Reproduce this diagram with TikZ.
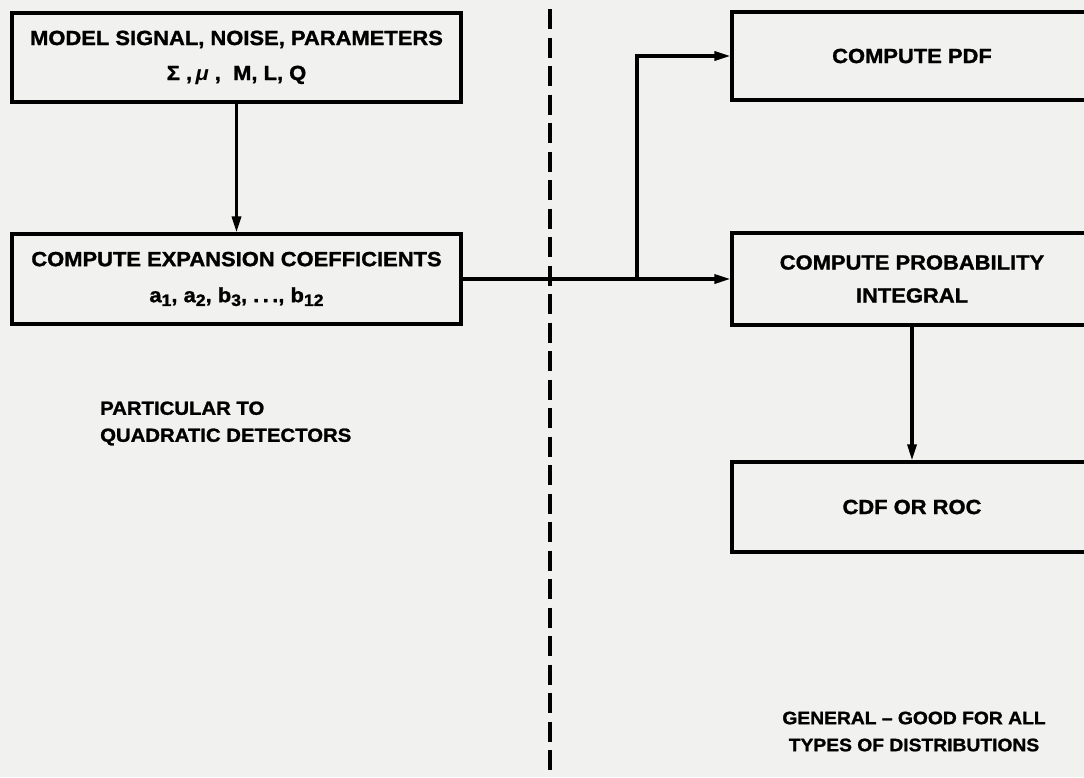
\documentclass[tikz,border=0pt]{standalone}
\usepackage{fontspec}
\setmainfont{Liberation Sans}[FakeStretch=1.07, BoldFeatures={FakeBold=1.3}]
\usetikzlibrary{arrows.meta}
\newcommand\sbx[1]{\raisebox{-0.35ex}{\fontsize{16.5}{16.5}\selectfont #1}}
\definecolor{paper}{RGB}{241,241,239}
\begin{document}
\begin{tikzpicture}[x=1pt,y=-1pt,
  box/.style={draw=black, line width=3.2pt, inner sep=0pt, align=center,
    font=\fontsize{20.5}{37}\selectfont\bfseries},
  conn/.style={line width=3.2pt, -{Triangle[length=16pt,width=9pt]}},
  lbl/.style={inner sep=0pt, font=\fontsize{19}{27}\selectfont\bfseries},
  genlbl/.style={inner sep=0pt, font=\fontsize{18}{27}\selectfont\bfseries},
  divider/.style={line width=3.8pt, dash pattern=on 20pt off 8.5pt}]
\fill[paper] (0,0) rectangle (1084,777);
\useasboundingbox (0,0) rectangle (1084,777);
\clip (0,0) rectangle (1084,777);

\node[box, minimum width=449pt, minimum height=89pt] (model) at (236.5,57.5)
  {MODEL SIGNAL, NOISE, PARAMETERS\\[-2pt]
   Σ ,\,{\itshape μ} ,\ \ M, L, Q};
\node[box, minimum width=449pt, minimum height=90pt] (coef) at (236.5,279)
  {COMPUTE EXPANSION COEFFICIENTS\\[-1pt]
   a\sbx{1}, a\sbx{2}, b\sbx{3}, .\,.\,., b\sbx{12}};
\node[box, minimum width=360pt, minimum height=88pt] (pdf) at (912,56)
  {COMPUTE PDF};
\node[box, minimum width=360pt, minimum height=92pt] (prob) at (912,279)
  {COMPUTE PROBABILITY\\[-4pt] INTEGRAL};
\node[box, minimum width=360pt, minimum height=90pt] (cdf) at (912,507)
  {CDF OR ROC};

\node[lbl, align=left, anchor=west] (part) at (100,423.5)
  {PARTICULAR TO\\QUADRATIC DETECTORS};
\node[genlbl, align=center] (gen) at (914,731.5)
  {GENERAL -- GOOD FOR ALL\\TYPES OF DISTRIBUTIONS};

\coordinate (dtop) at (550,9);
\coordinate (dbot) at (550,790);
\draw[divider] (dtop) -- (dbot);

\coordinate (br) at (637,279);
\draw[conn] (model.south) -- (coef.north);
\draw[conn] (coef.east) -- (prob.west);
\draw[conn] (br) |- (pdf.west);
\draw[conn] (prob.south) -- (cdf.north);
\end{tikzpicture}
\end{document}
